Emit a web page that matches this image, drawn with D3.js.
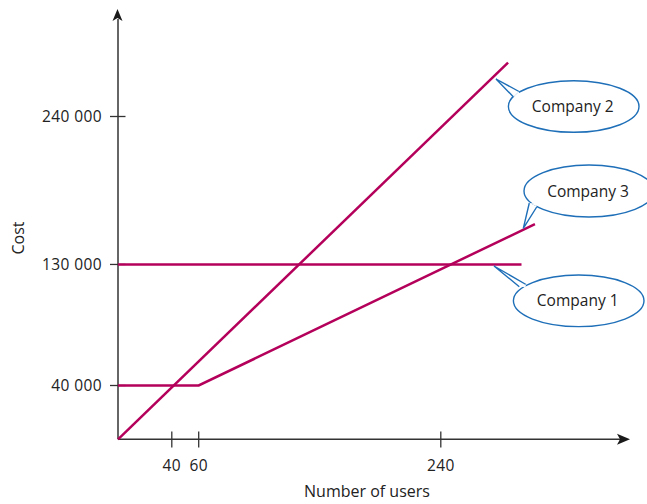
<!DOCTYPE html>
<html><head><meta charset="utf-8">
<script src="https://cdn.jsdelivr.net/npm/d3@7"></script>
<style>
body{margin:0;background:#fff;}
text{font-family:"Open Sans","Noto Sans",sans-serif;fill:#222;}
</style></head>
<body>
<svg id="c" width="647" height="504"></svg>
<script>
// data
const xTicks = [40, 60, 240];
const yTicks = [40000, 130000, 240000];
const yTickLabels = ["40 000", "130 000", "240 000"];
const company1 = [[0, 130000], [300, 130000]];
const company2 = [[0, 0], [290, 280000]];
const company3 = [[0, 40000], [60, 40000], [310, 160000]];
const labels = ["Company 1", "Company 2", "Company 3"];

const svg = d3.select("#c");
const x = d3.scaleLinear().domain([0, 100]).range([118, 252.5]);
const y = d3.scaleLinear().domain([0, 100000]).range([439.3, 304.8]);
const axisCol = "#333";
const lineCol = "#b4005a";
const blue = "#1e6fb8";

// axes
svg.append("line").attr("x1", 118).attr("y1", 439.3).attr("x2", 620).attr("y2", 439.3)
  .attr("stroke", axisCol).attr("stroke-width", 1.5);
svg.append("line").attr("x1", 118).attr("y1", 439.3).attr("x2", 118).attr("y2", 19)
  .attr("stroke", axisCol).attr("stroke-width", 1.5);
svg.append("path").attr("d", "M630,439.3 L617,433.8 L620,439.3 L617,444.8 Z").attr("fill", "#1a1a1a");
svg.append("path").attr("d", "M117.5,9 L112.5,21 L117.5,18 L122.5,21 Z").attr("fill", "#1a1a1a");

// x ticks
const xg = svg.append("g");
xTicks.forEach(t => {
  xg.append("line").attr("x1", x(t)).attr("x2", x(t)).attr("y1", 431.5).attr("y2", 447.5)
    .attr("stroke", axisCol).attr("stroke-width", 1.3);
  xg.append("text").attr("x", x(t)).attr("y", 471).attr("text-anchor", "middle")
    .attr("font-size", 15.5).attr("letter-spacing", 0.4).text(t);
});
// y ticks
yTicks.forEach((t, i) => {
  svg.append("line").attr("x1", 110).attr("x2", 125.5).attr("y1", y(t)).attr("y2", y(t))
    .attr("stroke", axisCol).attr("stroke-width", 1.3);
  svg.append("text").attr("x", 102).attr("y", y(t) + 5.5).attr("text-anchor", "end")
    .attr("font-size", 15.5).attr("letter-spacing", 0.4).text(yTickLabels[i]);
});

svg.append("text").attr("x", 367).attr("y", 497).attr("text-anchor", "middle")
  .attr("font-size", 16).text("Number of users");
svg.append("text").attr("transform", "translate(24,238) rotate(-90)").attr("text-anchor", "middle")
  .attr("font-size", 16).text("Cost");

// lines
const line = d3.line().x(d => x(d[0])).y(d => y(d[1]));
[company1, company2, company3].forEach(d => {
  svg.append("path").attr("d", line(d)).attr("fill", "none")
    .attr("stroke", lineCol).attr("stroke-width", 2.5);
});

// callouts
const callouts = [
  {cx: 578.7, cy: 300.8, rx: 65.3, ry: 25.8, tip: [494, 266], b1: [519.3, 286.7], b2: [526, 284.5], label: labels[0]},
  {cx: 573.7, cy: 106.5, rx: 65.3, ry: 25.8, tip: [496, 79], b1: [519, 91.5], b2: [513.5, 97], label: labels[1]},
  {cx: 589, cy: 191, rx: 65, ry: 26, tip: [523.3, 228.3], b1: [529.3, 203], b2: [537, 206.5], label: labels[2]}
];
callouts.forEach(c => {
  const g = svg.append("g");
  g.append("ellipse").attr("cx", c.cx).attr("cy", c.cy).attr("rx", c.rx).attr("ry", c.ry)
    .attr("fill", "#fff").attr("stroke", blue).attr("stroke-width", 1.4);
  g.append("path").attr("d", `M${c.b1[0]},${c.b1[1]} L${c.tip[0]},${c.tip[1]} L${c.b2[0]},${c.b2[1]}`)
    .attr("fill", "#fff").attr("stroke", blue).attr("stroke-width", 1.4).attr("stroke-linejoin", "miter");
  g.append("path").attr("d", `M${c.b1[0]},${c.b1[1]} L${c.b2[0]},${c.b2[1]} L${(c.b1[0]+c.b2[0])/2 + (c.cx-(c.b1[0]+c.b2[0])/2)*0.05},${(c.b1[1]+c.b2[1])/2 + (c.cy-(c.b1[1]+c.b2[1])/2)*0.1} Z`)
    .attr("fill", "#fff").attr("stroke", "none");
  g.append("text").attr("x", c.cx - 1).attr("y", c.cy + 5.5).attr("text-anchor", "middle")
    .attr("font-size", 15.5).text(c.label);
});
</script>
</body></html>
